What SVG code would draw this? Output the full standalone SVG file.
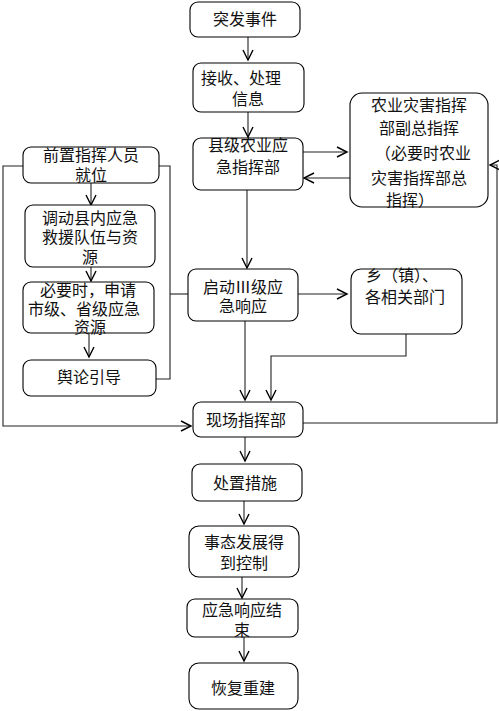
<svg xmlns="http://www.w3.org/2000/svg" width="499" height="711" viewBox="0 0 499 711">
<defs>
<marker id="arr" markerUnits="userSpaceOnUse" markerWidth="12" markerHeight="12" refX="10" refY="5" orient="auto" overflow="visible">
<path d="M0,0 L10,5 L0,10" fill="none" stroke="#000" stroke-width="1.4"/>
</marker>
</defs>
<style>
.box{fill:#fff;stroke:#000;stroke-width:1.1}
.t{font-family:"Noto Sans CJK SC","Noto Sans",sans-serif;font-size:16px;fill:#111;text-anchor:middle}
.c{fill:none;stroke:#222;stroke-width:1.1}
.a{marker-end:url(#arr)}
</style>
<rect width="499" height="711" fill="#fff"/>
<g id="connectors">
<line class="c a" x1="248" y1="37" x2="248" y2="60"/>
<line class="c a" x1="248" y1="112" x2="248" y2="137"/>
<line class="c a" x1="303" y1="152" x2="347" y2="152"/>
<line class="c a" x1="350" y1="178" x2="304" y2="178"/>
<line class="c a" x1="247" y1="190" x2="247" y2="268"/>
<line class="c a" x1="91" y1="183" x2="91" y2="205"/>
<line class="c a" x1="91" y1="267" x2="91" y2="281"/>
<line class="c a" x1="89" y1="333" x2="89" y2="357"/>
<polyline class="c" points="159,166 170,166 170,379 156,379"/>
<line class="c" x1="170" y1="294" x2="188" y2="294"/>
<polyline class="c a" points="23,166 3,166 3,426 191,426"/>
<line class="c a" x1="298" y1="294" x2="347" y2="294"/>
<polyline class="c a" points="406,334 406,356 271,356 271,400"/>
<line class="c a" x1="245" y1="321" x2="245" y2="400"/>
<polyline class="c a" points="303,423 497,423 497,165 490,165"/>
<line class="c a" x1="245" y1="437" x2="245" y2="461"/>
<line class="c a" x1="244" y1="501" x2="244" y2="524"/>
<line class="c a" x1="242" y1="577" x2="242" y2="598"/>
<line class="c a" x1="244" y1="637" x2="244" y2="661"/>
</g>
<g id="n1"><rect class="box" x="190" y="2" width="110" height="35" rx="8"/><text class="t" x="245" y="25">突发事件</text></g>
<g id="n2"><rect class="box" x="193" y="63" width="111" height="49" rx="8"/><text class="t" x="241" y="84">接收、处理</text><text class="t" x="248" y="105">信息</text></g>
<g id="n3"><rect class="box" x="193" y="138" width="110" height="52" rx="8"/><text class="t" x="248" y="151">县级农业应</text><text class="t" x="248" y="173">急指挥部</text></g>
<g id="n4"><rect class="box" x="350" y="93" width="138" height="114" rx="12"/><text class="t" x="419" y="111">农业灾害指挥</text><text class="t" x="419" y="134">部副总指挥</text><text class="t" x="423" y="159">（必要时农业</text><text class="t" x="419" y="184">灾害指挥部总</text><text class="t" x="410" y="206">指挥）</text></g>
<g id="n5"><rect class="box" x="23" y="147" width="136" height="36" rx="8"/><text class="t" x="91" y="161">前置指挥人员</text><text class="t" x="91" y="181">就位</text></g>
<g id="n6"><rect class="box" x="25" y="205" width="130" height="62" rx="8"/><text class="t" x="90" y="224">调动县内应急</text><text class="t" x="90" y="243">救援队伍与资</text><text class="t" x="90" y="263">源</text></g>
<g id="n7"><rect class="box" x="23" y="282" width="131" height="51" rx="8"/><text class="t" x="88" y="296">必要时，申请</text><text class="t" x="84" y="315">市级、省级应急</text><text class="t" x="90" y="333">资源</text></g>
<g id="n8"><rect class="box" x="23" y="360" width="133" height="36" rx="8"/><text class="t" x="89" y="383">舆论引导</text></g>
<g id="n9"><rect class="box" x="188" y="269" width="110" height="52" rx="8"/><text class="t" x="243" y="293">启动Ⅲ级应</text><text class="t" x="243" y="312">急响应</text></g>
<g id="n10"><rect class="box" x="351" y="269" width="111" height="65" rx="10"/><text class="t" x="402" y="281">乡（镇）、</text><text class="t" x="405" y="303">各相关部门</text></g>
<g id="n11"><rect class="box" x="193" y="402" width="110" height="35" rx="8"/><text class="t" x="246" y="426">现场指挥部</text></g>
<g id="n12"><rect class="box" x="192" y="464" width="110" height="37" rx="8"/><text class="t" x="245" y="489">处置措施</text></g>
<g id="n13"><rect class="box" x="189" y="526" width="110" height="51" rx="10"/><text class="t" x="244" y="548">事态发展得</text><text class="t" x="244" y="569">到控制</text></g>
<g id="n14"><rect class="box" x="187" y="599" width="111" height="38" rx="8"/><text class="t" x="242" y="616">应急响应结</text><text class="t" x="242" y="636">束</text></g>
<g id="n15"><rect class="box" x="189" y="663" width="109" height="46" rx="10"/><text class="t" x="243" y="694">恢复重建</text></g>
</svg>
